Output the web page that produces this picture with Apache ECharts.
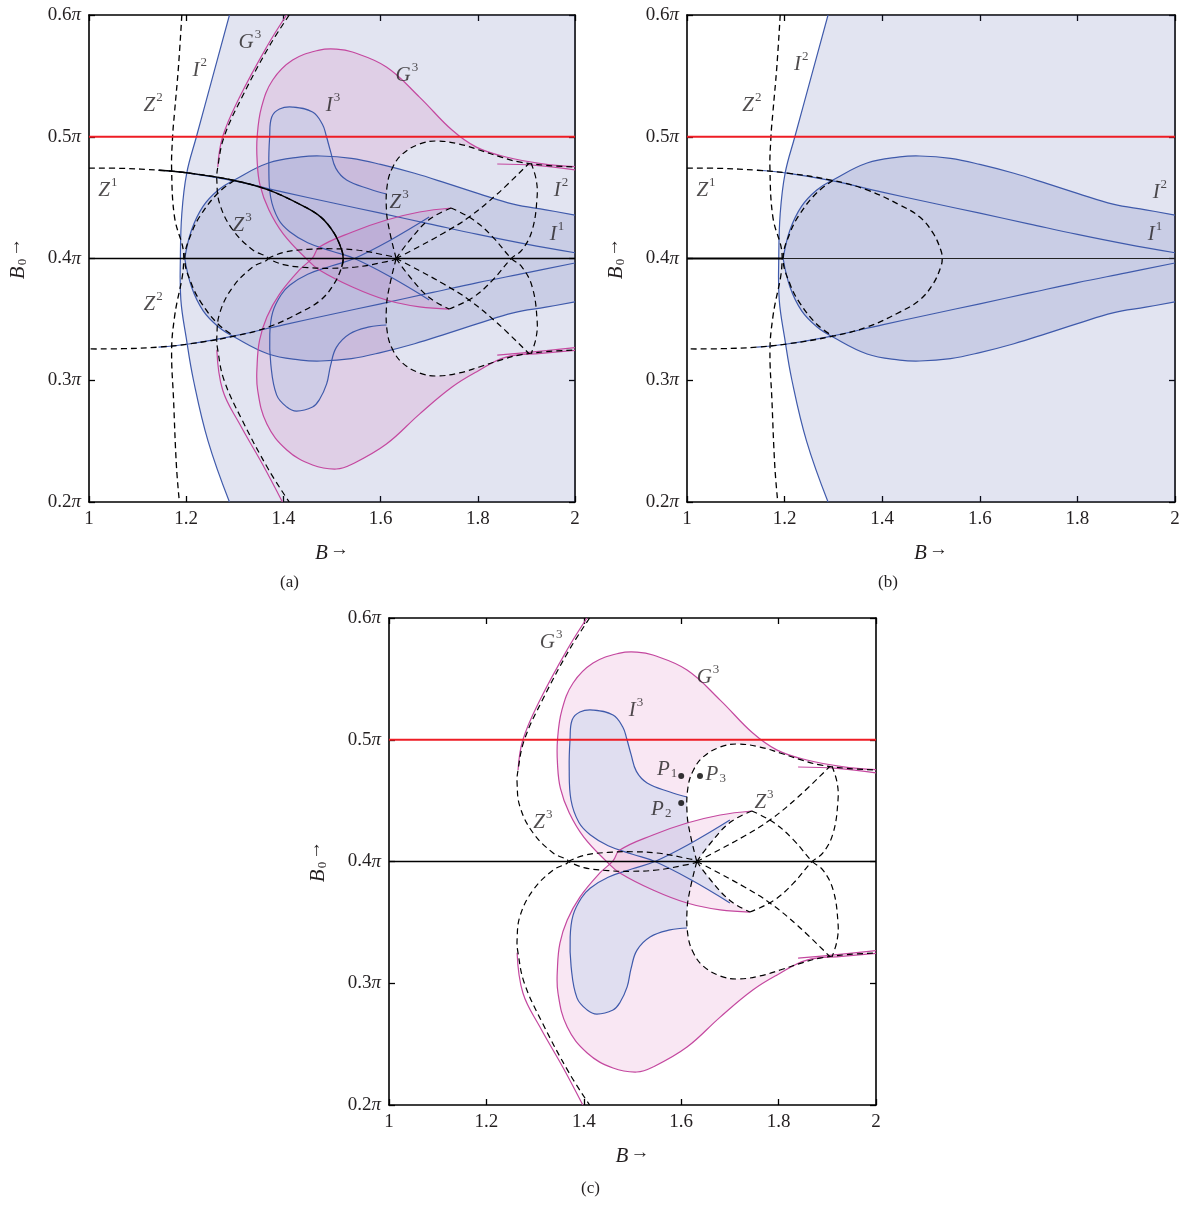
<!DOCTYPE html>
<html>
<head>
<meta charset="utf-8">
<script src="https://cdn.jsdelivr.net/npm/echarts@6.0.0/dist/echarts.min.js"></script>
<style>
html, body { margin: 0; padding: 0; background: #fff; }
#chart { width: 1187px; height: 1206px; }
</style>
</head>
<body>
<div id="chart"></div>
<script>
// all curves in [B, B0/pi]
const redLevel = [[1, 0.5], [2, 0.5]];
const blackLevel = [[1, 0.4], [2, 0.4]];

// Z^2 (dashed, nearly vertical)
const z2Curve = [[1.191, 0.6], [1.184, 0.557], [1.176, 0.52], [1.172, 0.5], [1.170, 0.473], [1.176, 0.434],
    [1.195, 0.401], [1.176, 0.352], [1.170, 0.325], [1.174, 0.284], [1.180, 0.229], [1.186, 0.2]];
// Z^1 teardrop with its two tails
const z1Curve = [[1.0, 0.4743], [1.07, 0.4740], [1.143, 0.4725], [1.205, 0.4702], [1.299, 0.4641], [1.369, 0.4563],
    [1.436, 0.444], [1.477, 0.434], [1.504, 0.421], [1.52, 0.407], [1.523, 0.40], [1.52, 0.393], [1.504, 0.379],
    [1.477, 0.366], [1.436, 0.356], [1.369, 0.3437], [1.299, 0.3362], [1.205, 0.3298], [1.143, 0.3272], [1.07, 0.3259], [1.0, 0.3257]];
const z1Inner = [[1.299, 0.4641], [1.266, 0.454], [1.232, 0.437], [1.211, 0.421], [1.197, 0.40], [1.211, 0.379],
    [1.232, 0.363], [1.266, 0.346], [1.299, 0.3362]];
// I^2
const i2Outer = [[1.289, 0.6], [1.255, 0.55], [1.221, 0.5], [1.201, 0.47], [1.191, 0.437], [1.188, 0.40],
    [1.189, 0.366], [1.20, 0.335], [1.215, 0.30], [1.245, 0.25], [1.289, 0.2]];
const i2LensUpper = [[1.197, 0.40], [1.211, 0.4234], [1.235, 0.443], [1.266, 0.4563], [1.299, 0.4645], [1.369, 0.4784],
    [1.436, 0.4834], [1.477, 0.4842], [1.54, 0.4822], [1.60, 0.4773], [1.67, 0.470], [1.738, 0.4615], [1.80, 0.4535],
    [1.873, 0.4446], [1.94, 0.440], [2.0, 0.4357]];
const i2LensLower = [[1.197, 0.40], [1.211, 0.3766], [1.235, 0.357], [1.266, 0.344], [1.299, 0.3355], [1.369, 0.3216],
    [1.436, 0.3166], [1.477, 0.3158], [1.54, 0.3178], [1.60, 0.3227], [1.67, 0.330], [1.738, 0.3385], [1.80, 0.3465],
    [1.873, 0.3554], [1.94, 0.360], [2.0, 0.3643]];
// I^1
const i1Upper = [[1.143, 0.4725], [1.205, 0.4702], [1.299, 0.4638], [1.4, 0.4545], [1.5, 0.4458], [1.6, 0.4372],
    [1.7, 0.4285], [1.8, 0.4198], [1.9, 0.4118], [2.0, 0.4047]];
const i1Lower = [[1.143, 0.3272], [1.205, 0.3298], [1.299, 0.3365], [1.4, 0.3455], [1.5, 0.3542], [1.6, 0.3628],
    [1.7, 0.3715], [1.8, 0.3802], [1.9, 0.3882], [2.0, 0.3963]];

// G^3 outer branches and Z^3 outer curve
const g3OuterUpper = [[1.4066, 0.6], [1.3655, 0.5737], [1.31, 0.5326], [1.275, 0.50], [1.265, 0.4752]];
const g3OuterLower = [[1.263, 0.325], [1.275, 0.292], [1.31, 0.264], [1.357, 0.231], [1.398, 0.2]];
const z3Outer = [[1.412, 0.6], [1.37, 0.5737], [1.315, 0.5326], [1.278, 0.50], [1.265, 0.4752], [1.263, 0.4645],
    [1.269, 0.4448], [1.296, 0.4234], [1.337, 0.407], [1.368, 0.40], [1.337, 0.393], [1.296, 0.3766], [1.269, 0.3552],
    [1.263, 0.3355], [1.265, 0.3248], [1.278, 0.30], [1.315, 0.2674], [1.37, 0.2263], [1.412, 0.2]];
// Z^3 inner pieces
const z3Lens = [[1.368, 0.40], [1.40, 0.405], [1.45, 0.4075], [1.50, 0.408], [1.55, 0.407], [1.60, 0.4035], [1.632, 0.40],
    [1.60, 0.3965], [1.55, 0.393], [1.50, 0.392], [1.45, 0.3925], [1.40, 0.395], [1.368, 0.40]];
const z3LoopUpper = [[1.632, 0.40], [1.618, 0.4234], [1.612, 0.4398], [1.614, 0.4612], [1.625, 0.475], [1.645, 0.4858],
    [1.680, 0.494], [1.715, 0.4965], [1.762, 0.494], [1.803, 0.4891], [1.85, 0.483], [1.885, 0.4793], [1.94, 0.4765], [2.0, 0.4752]];
const z3LoopLower = [[1.632, 0.40], [1.618, 0.3766], [1.612, 0.3602], [1.614, 0.3388], [1.625, 0.325], [1.645, 0.3142],
    [1.68, 0.306], [1.715, 0.3035], [1.762, 0.306], [1.803, 0.3109], [1.85, 0.317], [1.885, 0.3207], [1.94, 0.3235], [2.0, 0.3248]];
const z3CuspHigh = [[1.632, 0.40], [1.66, 0.415], [1.70, 0.432], [1.745, 0.4415]];
const z3CuspLow = [[1.632, 0.40], [1.66, 0.385], [1.70, 0.368], [1.741, 0.3585]];
const z3DiagUp = [[1.632, 0.40], [1.68, 0.41], [1.73, 0.421], [1.782, 0.434], [1.84, 0.453], [1.905, 0.478]];
const z3DiagDown = [[1.632, 0.40], [1.68, 0.39], [1.73, 0.379], [1.782, 0.366], [1.84, 0.347], [1.905, 0.322]];
const z3CrossA = [[1.745, 0.4415], [1.79, 0.432], [1.83, 0.418], [1.869, 0.40], [1.891, 0.393], [1.912, 0.3766],
    [1.922, 0.3495], [1.92, 0.335], [1.91, 0.322]];
const z3CrossB = [[1.741, 0.3585], [1.79, 0.368], [1.83, 0.382], [1.869, 0.40], [1.891, 0.407], [1.912, 0.4234],
    [1.922, 0.4505], [1.92, 0.465], [1.91, 0.478]];

// G^3 lobes (magenta)
const g3LobeUpper = [[2.0, 0.4755], [1.93, 0.478], [1.858, 0.4834], [1.797, 0.4915], [1.747, 0.5055], [1.68, 0.5326],
    [1.612, 0.5573], [1.542, 0.5696], [1.509, 0.572], [1.474, 0.5712], [1.419, 0.563], [1.378, 0.5466], [1.355, 0.5244],
    [1.346, 0.50], [1.346, 0.48], [1.352, 0.46], [1.37, 0.44], [1.40, 0.42], [1.448, 0.3995], [1.474, 0.3906],
    [1.542, 0.3766], [1.612, 0.3659], [1.68, 0.3602], [1.741, 0.3585]];
const g3LobeLower = [[2.0, 0.3245], [1.93, 0.322], [1.858, 0.319], [1.797, 0.3068], [1.747, 0.2944], [1.68, 0.2722],
    [1.612, 0.2476], [1.542, 0.2312], [1.509, 0.2271], [1.46, 0.2304], [1.407, 0.2427], [1.366, 0.264], [1.347, 0.292],
    [1.346, 0.3134], [1.351, 0.333], [1.366, 0.352], [1.392, 0.3708], [1.433, 0.3906], [1.46, 0.4005], [1.474, 0.4094],
    [1.542, 0.4218], [1.612, 0.4316], [1.68, 0.4382], [1.745, 0.4415]];
const g3TailUpper = [[1.84, 0.4776], [1.92, 0.4765], [2.0, 0.4728]];
const g3TailLower = [[1.84, 0.3207], [1.92, 0.3235], [2.0, 0.3268]];

// I^3 (blue)
const i3Upper = [[1.612, 0.453], [1.577, 0.4571], [1.53, 0.4645], [1.508, 0.474], [1.497, 0.488], [1.488, 0.501],
    [1.48, 0.5105], [1.46, 0.5203], [1.419, 0.5244], [1.392, 0.5228], [1.376, 0.5162], [1.3717, 0.50], [1.370, 0.4776],
    [1.3737, 0.4505], [1.39, 0.432], [1.413, 0.422], [1.45, 0.413], [1.50, 0.406], [1.546, 0.40], [1.62, 0.385], [1.70, 0.366]];
const i3Lower = [[1.612, 0.3454], [1.577, 0.3438], [1.536, 0.338], [1.509, 0.327], [1.497, 0.312], [1.489, 0.297],
    [1.474, 0.284], [1.46, 0.278], [1.427, 0.2747], [1.407, 0.278], [1.386, 0.288], [1.374, 0.3134], [1.372, 0.338],
    [1.378, 0.356], [1.395, 0.37], [1.413, 0.378], [1.45, 0.387], [1.50, 0.394], [1.546, 0.40], [1.62, 0.415], [1.70, 0.434]];

const pointsP = [[1.6, 0.4702], [1.6386, 0.4702], [1.6, 0.448]];

// curve labels: letter, index, subscript?, anchor
const notesA = [['G', '3', 0, 1.331, 0.5795], ['I', '2', 0, 1.228, 0.5565], ['Z', '2', 0, 1.132, 0.5277],
    ['G', '3', 0, 1.654, 0.5524], ['I', '3', 0, 1.502, 0.5277], ['Z', '1', 0, 1.039, 0.4579], ['Z', '3', 0, 1.315, 0.4292],
    ['Z', '3', 0, 1.638, 0.448], ['I', '2', 0, 1.971, 0.4579], ['I', '1', 0, 1.963, 0.4218], ['Z', '2', 0, 1.132, 0.3643]];
const notesB = [['I', '2', 0, 1.234, 0.5614], ['Z', '2', 0, 1.133, 0.5277], ['Z', '1', 0, 1.039, 0.4579],
    ['I', '2', 0, 1.969, 0.4563], ['I', '1', 0, 1.959, 0.4218]];
const notesC = [['G', '3', 0, 1.333, 0.5819], ['G', '3', 0, 1.655, 0.5532], ['I', '3', 0, 1.507, 0.5261],
    ['P', '1', 1, 1.571, 0.4776], ['P', '3', 1, 1.671, 0.4735], ['P', '2', 1, 1.559, 0.4448],
    ['Z', '3', 0, 1.77, 0.4505], ['Z', '3', 0, 1.316, 0.4341]];

const SERIF = 'Liberation Serif';
const INK = '#231f20';
const BLUE = '#3f5aab';
const MAGENTA = '#c4489f';
const RED = '#ee1d25';
const LAV = 'rgba(62,75,162,0.15)';
const PINK = 'rgba(205,70,165,0.13)';
const I3FILL_A = 'rgba(140,195,235,0.18)';
const I3FILL_C = 'rgba(200,214,238,0.5)';
const SMOOTH = 0.4;

const chart = echarts.init(document.getElementById('chart'));

const grids = [
    { left: 89, top: 15, width: 486, height: 487 },
    { left: 687, top: 15, width: 488, height: 487 },
    { left: 389, top: 618, width: 487, height: 487 }
];

const richTxt = {
    v: { fontFamily: SERIF, fontStyle: 'italic', fontSize: 21, color: INK, lineHeight: 26, verticalAlign: 'bottom' },
    s: { fontFamily: SERIF, fontSize: 13, color: INK, lineHeight: 26, verticalAlign: 'top', padding: [1, 0, 0, 1] },
    b: { fontFamily: SERIF, fontSize: 13, color: INK, lineHeight: 26, verticalAlign: 'bottom', padding: [0, 0, 0, 1] },
    n: { fontFamily: SERIF, fontSize: 19, color: INK },
    p: { fontFamily: SERIF, fontStyle: 'italic', fontSize: 19, color: INK },
    a: { fontFamily: SERIF, fontSize: 19, color: INK, padding: [0, 0, 2, 2] }
};

const xAxes = [], yAxes = [];
grids.forEach((g, i) => {
    const tick = { show: true, inside: true, length: 6, lineStyle: { color: '#000', width: 1.3 } };
    const line = { show: true, onZero: false, lineStyle: { color: '#000', width: 1.6 } };
    const xBase = { type: 'value', gridIndex: i, min: 1, max: 2, interval: 0.2, splitLine: { show: false }, axisLine: line, axisTick: tick };
    const yBase = { type: 'value', gridIndex: i, min: 0.2, max: 0.6, interval: 0.1, splitLine: { show: false }, axisLine: line, axisTick: tick };
    xAxes.push(Object.assign({}, xBase, {
        position: 'bottom',
        axisLabel: { margin: 8, fontFamily: SERIF, fontSize: 19, color: INK, formatter: v => String(+v.toFixed(1)) },
        name: '{v|B}{a|→}', nameLocation: 'middle', nameGap: 36, nameTextStyle: { rich: richTxt }
    }));
    xAxes.push(Object.assign({}, xBase, { position: 'top', axisLabel: { show: false } }));
    yAxes.push(Object.assign({}, yBase, {
        position: 'left',
        axisLabel: { margin: 8, formatter: v => '{n|' + v.toFixed(1) + '}{p|π}', rich: richTxt },
        name: '{v|B}{b|0}{a|→}', nameLocation: 'middle', nameRotate: 90, nameGap: 60, nameTextStyle: { rich: richTxt }
    }));
    yAxes.push(Object.assign({}, yBase, { position: 'right', axisLabel: { show: false } }));
});

// joins curve pieces into one outline; doubled end points keep the joins sharp
function region() {
    const out = [];
    Array.prototype.forEach.call(arguments, seg => {
        out.push(seg[0]);
        seg.forEach(p => out.push(p));
        out.push(seg[seg.length - 1]);
    });
    return out;
}

// filled region, projected with the grid's axes
function area(g, pts, color) {
    return {
        type: 'custom', xAxisIndex: 2 * g, yAxisIndex: 2 * g, clip: true, silent: true, z: 1,
        data: [pts[0]],
        renderItem: (params, api) => ({
            type: 'polygon',
            shape: { points: pts.map(p => api.coord(p)), smooth: SMOOTH },
            style: { fill: color }
        })
    };
}

// curve drawn with the same smoothing as the areas
function curve(g, pts, color, width, dash, smooth) {
    return {
        type: 'custom', xAxisIndex: 2 * g, yAxisIndex: 2 * g, clip: true, silent: true, z: dash ? 4 : 3,
        data: [pts[0]],
        renderItem: (params, api) => ({
            type: 'polyline',
            shape: { points: pts.map(p => api.coord(p)), smooth: smooth === undefined ? SMOOTH : smooth },
            style: { stroke: color, lineWidth: width, fill: null, lineDash: dash ? [6, 4] : null }
        })
    };
}

function notes(g, list) {
    return {
        type: 'scatter', xAxisIndex: 2 * g, yAxisIndex: 2 * g, symbolSize: 1, silent: true, z: 6,
        itemStyle: { color: 'rgba(0,0,0,0)' },
        data: list.map(n => [n[3], n[4]]),
        label: {
            show: true, position: 'inside', rich: richTxt,
            formatter: p => {
                const n = list[p.dataIndex];
                return '{v|' + n[0] + '}' + (n[2] ? '{b|' : '{s|') + n[1] + '}';
            }
        }
    };
}

const lavRegion = region(i2Outer, [[2, 0.2]], [[2, 0.6]]);
const lensRegion = region(i2LensUpper, i2LensLower.slice().reverse());
const lobeUpperRegion = region(g3LobeUpper, z3CuspLow.slice().reverse(), z3LoopUpper);
const lobeLowerRegion = region(g3LobeLower, z3CuspHigh.slice().reverse(), z3LoopLower);
const i3UpperRegion = region(i3Upper, z3CuspLow.slice(0, 2).reverse(), z3LoopUpper.slice(1, 3));
const i3LowerRegion = region(i3Lower, z3CuspHigh.slice(0, 2).reverse(), z3LoopLower.slice(1, 3));

function g3Part(g, i3Fill) {
    const dash = (pts) => curve(g, pts, '#000', 1.2, true);
    return [
        area(g, lobeUpperRegion, PINK), area(g, lobeLowerRegion, PINK),
        area(g, i3UpperRegion, i3Fill), area(g, i3LowerRegion, i3Fill),
        curve(g, i3Upper, BLUE, 1.2), curve(g, i3Lower, BLUE, 1.2),
        curve(g, g3OuterUpper, MAGENTA, 1.2), curve(g, g3OuterLower, MAGENTA, 1.2),
        curve(g, g3LobeUpper, MAGENTA, 1.2), curve(g, g3LobeLower, MAGENTA, 1.2),
        curve(g, g3TailUpper, MAGENTA, 1.2), curve(g, g3TailLower, MAGENTA, 1.2),
        dash(z3Outer), dash(z3Lens), dash(z3LoopUpper), dash(z3LoopLower),
        dash(z3CuspHigh), dash(z3CuspLow), dash(z3DiagUp), dash(z3DiagDown),
        dash(z3CrossA), dash(z3CrossB)
    ];
}

function i2Part(g) {
    return [
        area(g, lavRegion, LAV), area(g, lensRegion, LAV),
        curve(g, i2Outer, BLUE, 1.2), curve(g, i2LensUpper, BLUE, 1.2), curve(g, i2LensLower, BLUE, 1.2),
        curve(g, i1Upper, BLUE, 1.2), curve(g, i1Lower, BLUE, 1.2),
        curve(g, z2Curve, '#000', 1.3, true), curve(g, z1Curve, '#000', 1.3, true), curve(g, z1Inner, '#000', 1.3, true)
    ];
}

function levels(g, splitAtCusp) {
    const out = [Object.assign(curve(g, redLevel, RED, 1.9, false, 0), { z: 5 })];
    if (splitAtCusp) {
        out.push(Object.assign(curve(g, [blackLevel[0], i2LensUpper[0]], '#000', 1.8, false, 0), { z: 5 }));
        out.push(Object.assign(curve(g, [i2LensUpper[0], blackLevel[1]], '#222', 1.2, false, 0), { z: 5 }));
    } else {
        out.push(Object.assign(curve(g, blackLevel, '#000', 1.7, false, 0), { z: 5 }));
    }
    return out;
}

const series = [].concat(
    i2Part(0), g3Part(0, I3FILL_A),
    [Object.assign(curve(0, z1Curve.slice(2, 12), '#000', 1.4), { z: 4 })],
    levels(0), [notes(0, notesA)],
    i2Part(1), levels(1, true), [notes(1, notesB)],
    g3Part(2, I3FILL_C), levels(2), [notes(2, notesC)],
    [{
        type: 'scatter', xAxisIndex: 4, yAxisIndex: 4, data: pointsP, symbolSize: 6, z: 7,
        itemStyle: { color: '#000' }, silent: true
    }]
);

chart.setOption({
    animation: false,
    backgroundColor: '#fff',
    grid: grids,
    xAxis: xAxes,
    yAxis: yAxes,
    series: series,
    graphic: [
        { type: 'text', left: 280, top: 574, style: { text: '(a)', font: '17px "Liberation Serif"', fill: INK } },
        { type: 'text', left: 878, top: 574, style: { text: '(b)', font: '17px "Liberation Serif"', fill: INK } },
        { type: 'text', left: 581, top: 1180, style: { text: '(c)', font: '17px "Liberation Serif"', fill: INK } }
    ]
});
</script>
</body>
</html>
